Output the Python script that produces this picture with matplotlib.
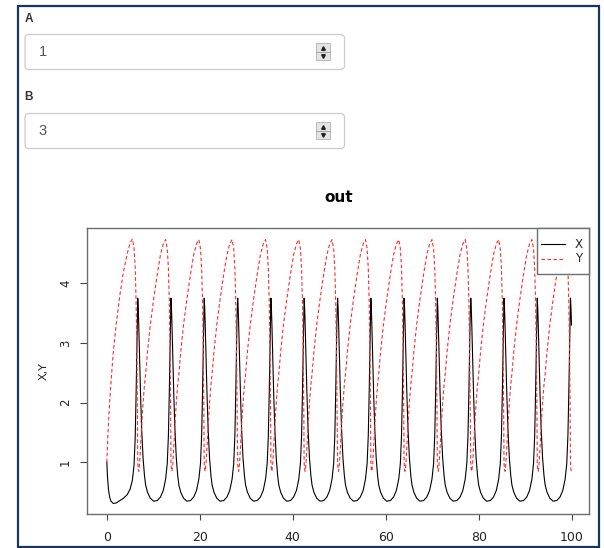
import matplotlib
matplotlib.use('Agg')
import matplotlib.pyplot as plt
from matplotlib.patches import Rectangle, FancyBboxPatch

# Input widgets shown above the plot
input_labels = ["A", "B"]
input_values = ["1", "3"]

# Start of the run (t, X, Y) before the first X spike
start_t = [0.00, 0.15, 0.35, 0.60, 0.90, 1.40, 2.00, 2.80, 3.60, 4.40, 5.00, 5.50, 5.85, 6.10, 6.30, 6.45, 6.57]
start_x = [1.00, 0.75, 0.55, 0.42, 0.35, 0.31, 0.32, 0.36, 0.40, 0.46, 0.55, 0.70, 0.95, 1.40, 2.15, 2.85, 3.40]
start_y = [1.00, 1.30, 1.65, 2.00, 2.35, 2.85, 3.30, 3.80, 4.20, 4.50, 4.67, 4.74, 4.60, 4.28, 3.68, 2.90, 1.95]

cycle_off = [0.00, 0.10, 0.22, 0.40, 0.60, 0.85, 1.15, 1.45, 1.70, 2.10, 2.70, 3.40, 4.20, 4.90, 5.50, 6.00, 6.35, 6.60, 6.80, 6.95, 7.07]
cycle_x = [3.75, 3.60, 3.30, 2.75, 2.15, 1.55, 1.07, 0.78, 0.62, 0.50, 0.40, 0.35, 0.36, 0.42, 0.53, 0.72, 0.98, 1.45, 2.20, 2.90, 3.45]
cycle_y = [1.00, 0.88, 0.85, 0.98, 1.25, 1.62, 2.00, 2.30, 2.48, 2.85, 3.30, 3.72, 4.15, 4.48, 4.66, 4.73, 4.58, 4.25, 3.65, 2.90, 1.95]

# Times of the X peaks
peak_times = [6.65, 13.8, 20.95, 28.15, 35.3, 42.45, 49.65, 56.8, 63.95, 71.1, 78.3, 85.45, 92.6, 99.75]

legend_labels = ["X", "Y"]
t_end = 100.0

# assemble the series
times = list(start_t)
xs = list(start_x)
ys = list(start_y)
for k, tp in enumerate(peak_times):
    if k + 1 < len(peak_times):
        nxt = peak_times[k + 1]
    else:
        nxt = t_end + 0.01
    for off, xv, yv in zip(cycle_off, cycle_x, cycle_y):
        if tp + off < nxt:
            times.append(tp + off)
            xs.append(xv)
            ys.append(yv)

W, H = 604, 548
RED = '#ff2a2a'
DASH = (3.2, 2.2)
fig = plt.figure(figsize=(W / 100, H / 100), dpi=100)

# background layer in pixel coordinates
bg = fig.add_axes([0, 0, 1, 1])
bg.set_xlim(0, W)
bg.set_ylim(H, 0)
bg.axis('off')

# dark frame of the screenshot
bg.add_patch(Rectangle((17.5, 5.5), 581, 541.3, fill=False, edgecolor='#17375e', linewidth=1.6))

label_y = [19, 97.5]
box_top = [34.5, 113.5]
for lab, val, ly, bt in zip(input_labels, input_values, label_y, box_top):
    bg.text(24.5, ly, lab, fontsize=8.5, fontweight='bold', color='#333333',
            family='Liberation Sans', ha='left', va='center')
    bg.add_patch(FancyBboxPatch((25, bt), 319.5, 35, boxstyle="round,pad=0,rounding_size=4",
                                facecolor='white', edgecolor='#cccccc', linewidth=0.9))
    bg.text(38.5, bt + 17.8, val, fontsize=10.5, color='#555555',
            family='Liberation Sans', ha='left', va='center')
    # spinner buttons
    bg.add_patch(Rectangle((315.5, bt + 8.5), 14.5, 17, facecolor='#e4e4e4', edgecolor='#b0b0b0', linewidth=0.6))
    bg.plot([315.5, 330], [bt + 17, bt + 17], color='#999999', lw=0.6)
    bg.plot([322.7], [bt + 13.2], marker='^', color='#222222', markersize=2.6)
    bg.plot([322.7], [bt + 21.2], marker='v', color='#222222', markersize=2.6)

# plot region
ax = fig.add_axes([87.3 / W, 1 - 514 / H, (589.3 - 87.3) / W, (514 - 227.7) / H])
ax.set_facecolor('white')
ax.plot(times, xs, color='black', lw=0.8, label=legend_labels[0])
ax.plot(times, ys, color=RED, lw=0.8, dashes=DASH, label=legend_labels[1])

ax.set_xlim(-4.2, 103.8)
ax.set_ylim(0.135, 4.93)
ax.set_xticks([0, 20, 40, 60, 80, 100])
ax.set_yticks([1, 2, 3, 4])
for s in ax.spines.values():
    s.set_color('#6e6e6e')
    s.set_linewidth(1.0)
ax.tick_params(axis='x', length=4.3, width=0.8, color='#444444', pad=8, labelsize=9, labelcolor='#222222')
ax.tick_params(axis='y', length=5, width=0.8, color='#444444', pad=6, labelsize=8.5, labelcolor='#222222')
for lbl in ax.get_yticklabels():
    lbl.set_rotation(90)
    lbl.set_va('center')

ax.set_ylabel('X,Y', fontsize=8, color='#222222')
ax.yaxis.set_label_coords(-0.076, 0.5)
ax.text(0.5, 1.104, 'out', transform=ax.transAxes, ha='center', va='center',
        fontsize=11, fontweight='bold')

# legend box drawn like R's legend(), on a top layer in pixel coordinates
top = fig.add_axes([0, 0, 1, 1], facecolor='none')
top.set_xlim(0, W)
top.set_ylim(H, 0)
top.axis('off')
top.add_patch(Rectangle((537.3, 227.7), 52, 46.6, facecolor='white', edgecolor='#6e6e6e', linewidth=1.0))
row_y = [244, 258.5]
styles = [dict(color='black', lw=0.8), dict(color=RED, lw=0.8, dashes=DASH)]
for lab, ry, st in zip(legend_labels, row_y, styles):
    top.plot([540.7, 564.5], [ry, ry], **st)
    top.text(579, ry, lab, fontsize=8.5, ha='center', va='center', color='#222222')

fig.savefig('out.png', dpi=100)
